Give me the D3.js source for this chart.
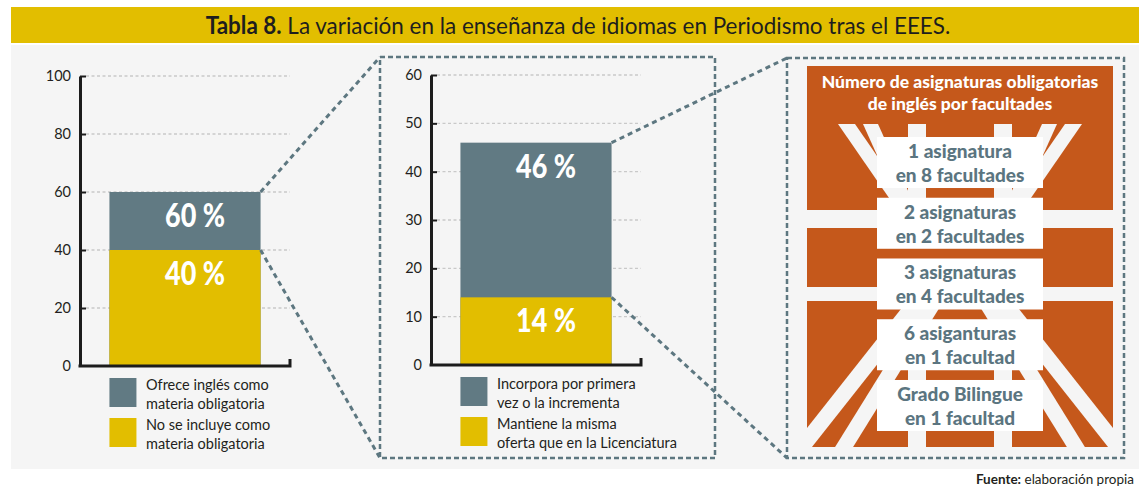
<!DOCTYPE html>
<html>
<head>
<meta charset="utf-8">
<script src="https://cdn.jsdelivr.net/npm/d3@7"></script>
<style>
  body { margin: 0; background: #ffffff; }
  svg { display: block; }
</style>
</head>
<body>
<div id="chart"></div>
<script>
(function(){
// Data
const titleBold = "Tabla 8.";
const titleRest = " La variación en la enseñanza de idiomas en Periodismo tras el EEES.";

const leftTicks = [0, 20, 40, 60, 80, 100];
const leftValues = [60, 40];          // slate bar, yellow bar (overlapping)
const leftLabels = ["60 %", "40 %"];
const leftLegend = [["Ofrece inglés como", "materia obligatoria"], ["No se incluye como", "materia obligatoria"]];

const midTicks = [0, 10, 20, 30, 40, 50, 60];
const midValues = [46, 14];
const midLabels = ["46 %", "14 %"];
const midLegend = [["Incorpora por primera", "vez o la incrementa"], ["Mantiene la misma", "oferta que en la Licenciatura"]];

const panelTitle = ["Número de asignaturas obligatorias", "de inglés por facultades"];
const panelItems = [
  ["1 asignatura", "en 8 facultades"],
  ["2 asignaturas", "en 2 facultades"],
  ["3 asignaturas", "en 4 facultades"],
  ["6 asiganturas", "en 1 facultad"],
  ["Grado Bilingue", "en 1 facultad"]
];

// Styles
const SLATE = "#617a83", YELLOW = "#e2be00", ORANGE = "#c5581b", BG = "#f5f5f5";
const DASH = "#5d7780";

const W = 1139, H = 488;
const svg = d3.select("#chart").append("svg").attr("width", W).attr("height", H);

// squeeze a text horizontally so it looks like a condensed face
function condense(sel, cx, cy, k) {
  sel.attr("x", 0).attr("y", 0).attr("transform", `translate(${cx},${cy}) scale(${k},1)`);
}

// background panel and title bar
svg.append("rect").attr("x", 11).attr("y", 45).attr("width", W - 11).attr("height", 424).attr("fill", BG);
svg.append("rect").attr("x", 11).attr("y", 7).attr("width", W - 11).attr("height", 36).attr("fill", YELLOW);

const title = svg.append("text")
  .attr("text-anchor", "middle")
  .style("font-family", "Lato, sans-serif")
  .style("font-size", "24px")
  .attr("fill", "#1e1e1e");
title.append("tspan").style("font-weight", "bold").text(titleBold);
title.append("tspan").text(titleRest);
condense(title, 578, 34, 745 / title.node().getComputedTextLength());

// connectors (behind)
const conn = svg.append("g").attr("fill", "none").attr("stroke", DASH)
  .attr("stroke-width", 3).attr("stroke-dasharray", "5,4");

function barChart(opts) {
  const g = svg.append("g");
  const y = d3.scaleLinear().domain([0, d3.max(opts.ticks)]).range([opts.y0, opts.y1]);
  const x = d3.scaleBand().domain(["bar"]).range([opts.ax, opts.ax + 210]).padding(0.163);

  // gridlines
  g.append("g").selectAll("line").data(opts.ticks.filter(d => d > 0)).enter().append("line")
    .attr("x1", opts.ax + 6).attr("x2", opts.ax + 210)
    .attr("y1", d => y(d)).attr("y2", d => y(d))
    .attr("stroke", "#c9c9c9").attr("stroke-width", 1.3).attr("stroke-dasharray", "3,2.5");

  // overlapping bars
  const colors = [SLATE, YELLOW];
  g.append("g").selectAll("rect").data(opts.values).enter().append("rect")
    .attr("x", x("bar")).attr("width", x.bandwidth())
    .attr("y", d => y(d)).attr("height", d => y(0) - y(d))
    .attr("fill", (d, i) => colors[i]);

  const lbl = g.append("g").selectAll("text").data(opts.values).enter().append("text")
    .attr("text-anchor", "middle")
    .attr("fill", "#ffffff")
    .style("font-family", "Lato, sans-serif")
    .style("font-weight", "900")
    .style("font-size", "32px")
    .text((d, i) => opts.labels[i]);
  const k = 60 / lbl.node().getComputedTextLength();
  lbl.each(function(d) {
    condense(d3.select(this), x("bar") + x.bandwidth() / 2 + 10, y(d) + 35, k);
  });

  // axis
  const axis = g.append("g").attr("transform", `translate(${opts.ax},0)`)
    .call(d3.axisLeft(y).tickValues(opts.ticks).tickSize(-6).tickSizeOuter(0).tickPadding(9));
  axis.select(".domain").attr("stroke", "#1c1c1c").attr("stroke-width", 3);
  axis.selectAll(".tick line").attr("stroke", "#1c1c1c").attr("stroke-width", 2);
  axis.selectAll(".tick text").attr("fill", "#231f20")
    .style("font-family", "Lato, sans-serif").style("font-size", "14.5px");
  axis.selectAll(".tick").filter(d => d === 0).select("line").remove();

  // baseline with end tick
  g.append("path")
    .attr("d", d3.line()([[opts.ax - 1.5, y(0)], [opts.ax + 210, y(0)], [opts.ax + 210, y(0) - 7]]))
    .attr("fill", "none").attr("stroke", "#1c1c1c").attr("stroke-width", 3);

  // legend
  const lg = g.append("g");
  opts.legend.forEach((lines, i) => {
    const top = opts.y0 + 12 + i * 40;
    lg.append("rect").attr("x", x("bar")).attr("y", top).attr("width", 27).attr("height", 29)
      .attr("fill", colors[i]);
    lines.forEach((t, j) => {
      lg.append("text").attr("x", opts.ax + 66).attr("y", top + 12 + j * 18.5)
        .attr("fill", "#231f20")
        .style("font-family", "Lato, sans-serif").style("font-size", "14.5px")
        .text(t);
    });
  });
  return { x, y };
}

const left = barChart({ ticks: leftTicks, values: leftValues, labels: leftLabels, legend: leftLegend, ax: 80, y0: 366, y1: 76 });
const mid = barChart({ ticks: midTicks, values: midValues, labels: midLabels, legend: midLegend, ax: 431, y0: 365, y1: 75 });

const lr = left.x("bar") + left.x.bandwidth();
const mr = mid.x("bar") + mid.x.bandwidth();
conn.append("line").attr("x1", lr).attr("y1", left.y(leftValues[0])).attr("x2", 380).attr("y2", 57);
conn.append("line").attr("x1", lr).attr("y1", left.y(leftValues[1])).attr("x2", 380).attr("y2", 458);
conn.append("line").attr("x1", mr).attr("y1", mid.y(midValues[0])).attr("x2", 787).attr("y2", 58);
conn.append("line").attr("x1", mr).attr("y1", mid.y(midValues[1])).attr("x2", 787).attr("y2", 458);
conn.raise();

// dashed boxes
svg.append("rect").attr("x", 380).attr("y", 57).attr("width", 335).attr("height", 401)
  .attr("fill", "none").attr("stroke", DASH).attr("stroke-width", 2.5).attr("stroke-dasharray", "5,3");
svg.append("rect").attr("x", 787).attr("y", 58).attr("width", 337).attr("height", 400)
  .attr("fill", "none").attr("stroke", DASH).attr("stroke-width", 2.5).attr("stroke-dasharray", "5,3");

// right panel
const px0 = 807, px1 = 1113, py0 = 66, py1 = 447, cx = 960;
svg.append("defs").append("clipPath").attr("id", "pclip")
  .append("rect").attr("x", px0).attr("y", py0).attr("width", px1 - px0).attr("height", py1 - py0);
const panel = svg.append("g");
panel.append("rect").attr("x", px0).attr("y", py0).attr("width", px1 - px0).attr("height", py1 - py0).attr("fill", ORANGE);

const deco = panel.append("g").attr("clip-path", "url(#pclip)").attr("fill", BG);
// parallelogram stripe: left x at yt, horizontal width w, slope s (dx per dy), to yb
function stripe(xt, yt, w, s, yb) {
  const d = yb - yt;
  return [[xt, yt], [xt + w, yt], [xt + w + s * d, yb], [xt + s * d, yb]];
}
const mirror = pts => pts.map(p => [2 * cx - p[0], p[1]]);
const stripes = [
  stripe(838, 124, 17, 0.69, 210),
  stripe(863, 124, 15, 0.45, 210),
  stripe(908, 124, 18, 0, 210),
  stripe(908, 301, 18, 0, 460),
  stripe(788, 452, 20, -0.79, 301),
  stripe(832, 452, 18, -0.62, 301)
];
const allStripes = stripes.concat(stripes.map(mirror));
deco.selectAll("path").data(allStripes).enter().append("path")
  .attr("d", d => d3.line()(d) + "Z");
deco.append("rect").attr("x", px0 - 5).attr("y", 210).attr("width", px1 - px0 + 10).attr("height", 18);
deco.append("rect").attr("x", px0 - 5).attr("y", 287).attr("width", px1 - px0 + 10).attr("height", 14);

panelTitle.forEach((t, i) => {
  panel.append("text").attr("x", cx).attr("y", 88 + i * 21.5)
    .attr("text-anchor", "middle").attr("fill", "#ffffff")
    .style("font-family", "Lato, sans-serif").style("font-weight", "900").style("font-size", "17.5px")
    .text(t);
});

const by = d3.scaleBand().domain(d3.range(panelItems.length)).range([137, 431]).paddingInner(0.16);
const boxes = panel.append("g").selectAll("g").data(panelItems).enter().append("g")
  .attr("transform", (d, i) => `translate(0,${by(i)})`);
boxes.append("rect").attr("x", 877).attr("width", 166).attr("height", by.bandwidth()).attr("fill", "#ffffff");
boxes.each(function(lines) {
  lines.forEach((t, j) => {
    d3.select(this).append("text").attr("x", cx).attr("y", 21 + j * 24)
      .attr("text-anchor", "middle").attr("fill", "#5b7580")
      .style("font-family", "Lato, sans-serif").style("font-weight", "900").style("font-size", "19px")
      .text(t);
  });
});

// source
const src = svg.append("text").attr("x", 1134).attr("y", 484)
  .attr("text-anchor", "end")
  .attr("fill", "#231f20")
  .style("font-family", "Lato, sans-serif").style("font-size", "13.5px");
src.append("tspan").style("font-weight", "bold").text("Fuente:");
src.append("tspan").text(" elaboración propia");
})();
</script>
</body>
</html>
